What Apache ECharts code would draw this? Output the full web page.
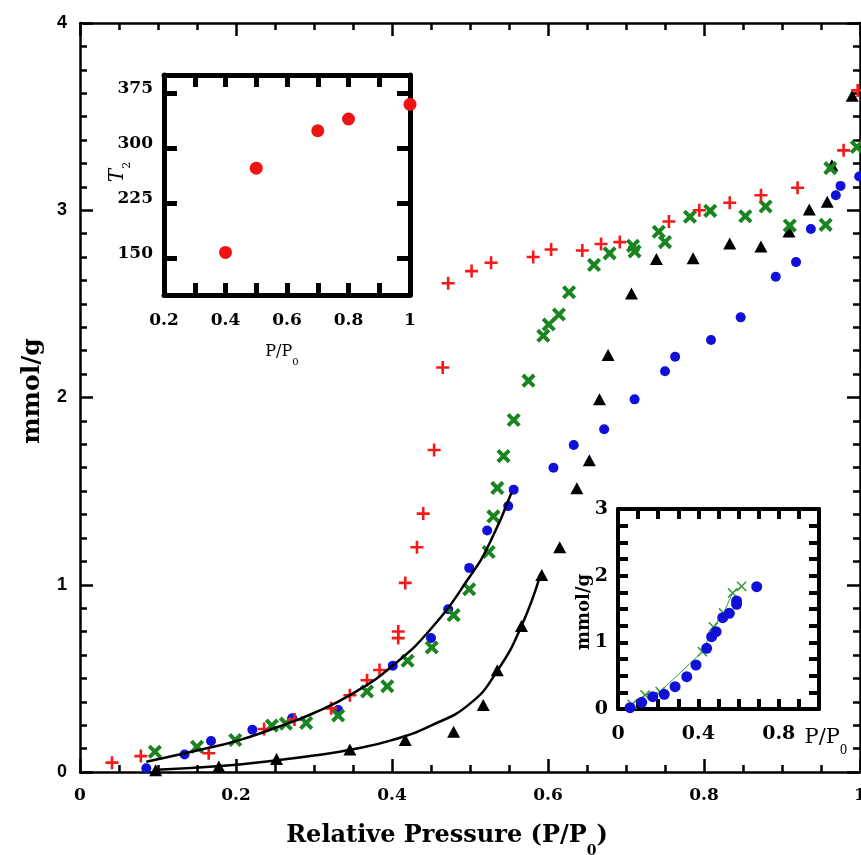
<!DOCTYPE html>
<html>
<head>
<meta charset="utf-8">
<script src="https://cdn.jsdelivr.net/npm/echarts@6/dist/echarts.min.js"></script>
<style>
html, body { margin: 0; padding: 0; background: #fff; }
#chart { width: 861px; height: 855px; }
</style>
</head>
<body>
<div id="chart"></div>
<script>
// Adsorption isotherms, amount adsorbed (mmol/g) vs relative pressure P/P0
const plusRed = [[0.041,0.05],[0.078,0.085],[0.165,0.10],[0.236,0.23],[0.275,0.28],[0.322,0.34],[0.346,0.41],[0.368,0.49],[0.384,0.545],[0.408,0.715],[0.408,0.75],[0.417,1.01],[0.432,1.20],[0.440,1.38],[0.454,1.72],[0.465,2.16],[0.472,2.61],[0.502,2.675],[0.527,2.72],[0.581,2.75],[0.604,2.79],[0.644,2.785],[0.668,2.82],[0.692,2.83],[0.755,2.94],[0.794,3.00],[0.833,3.04],[0.873,3.08],[0.920,3.12],[0.979,3.32],[0.997,3.64]];
const crossGreen = [[0.096,0.108],[0.150,0.135],[0.199,0.171],[0.246,0.248],[0.264,0.258],[0.290,0.262],[0.331,0.302],[0.368,0.43],[0.394,0.458],[0.420,0.594],[0.451,0.665],[0.479,0.838],[0.499,0.976],[0.524,1.175],[0.530,1.365],[0.535,1.517],[0.543,1.687],[0.556,1.88],[0.575,2.09],[0.594,2.33],[0.601,2.39],[0.614,2.443],[0.627,2.562],[0.659,2.708],[0.679,2.77],[0.709,2.81],[0.711,2.78],[0.742,2.885],[0.750,2.83],[0.782,2.965],[0.808,2.997],[0.853,2.968],[0.879,3.02],[0.910,2.918],[0.956,2.922],[0.962,3.225],[0.996,3.338]];
const dotBlue = [[0.085,0.02],[0.134,0.093],[0.168,0.166],[0.221,0.226],[0.272,0.287],[0.331,0.331],[0.401,0.568],[0.450,0.715],[0.472,0.869],[0.499,1.09],[0.522,1.29],[0.549,1.42],[0.556,1.508],[0.607,1.625],[0.633,1.746],[0.672,1.83],[0.711,1.99],[0.750,2.14],[0.763,2.218],[0.809,2.307],[0.847,2.428],[0.892,2.645],[0.918,2.723],[0.937,2.90],[0.969,3.08],[0.975,3.13],[0.999,3.18]];
const triBlack = [[0.097,0.01],[0.178,0.03],[0.252,0.07],[0.346,0.12],[0.417,0.171],[0.479,0.215],[0.517,0.358],[0.535,0.543],[0.566,0.78],[0.592,1.052],[0.615,1.20],[0.637,1.515],[0.653,1.665],[0.666,1.99],[0.677,2.227],[0.707,2.556],[0.739,2.74],[0.786,2.743],[0.833,2.823],[0.873,2.806],[0.909,2.886],[0.935,3.004],[0.958,3.046],[0.964,3.24],[0.990,3.612]];

// fitted curves
const fitUpper = [[0.085,0.055],[0.15,0.115],[0.2,0.165],[0.25,0.235],[0.3,0.315],[0.35,0.42],[0.4,0.565],[0.45,0.765],[0.5,1.045],[0.525,1.22],[0.553,1.49]];
const fitLower = [[0.098,0.012],[0.18,0.032],[0.25,0.062],[0.3,0.088],[0.35,0.122],[0.4,0.17],[0.45,0.248],[0.5,0.365],[0.535,0.54],[0.566,0.78],[0.59,1.05]];

// inset: T2 vs P/P0
const t2Pressure = [0.4, 0.5, 0.7, 0.8, 1.0];
const t2Values = [158, 273, 324, 340, 360];
const t2Ticks = [150, 225, 300, 375];

// inset: low-pressure branch
const insetBlue = [[0.06,0.02],[0.118,0.10],[0.173,0.185],[0.23,0.22],[0.284,0.334],[0.342,0.484],[0.388,0.66],[0.441,0.91],[0.466,1.084],[0.488,1.159],[0.521,1.369],[0.554,1.435],[0.59,1.57],[0.59,1.62],[0.69,1.834]];
const insetGreen = [[0.07,0.07],[0.135,0.21],[0.21,0.26],[0.42,0.86],[0.475,1.23],[0.525,1.44],[0.57,1.74],[0.615,1.84]];
const insetXLabels = [0, 0.4, 0.8];

const PLUS = 'path://M4,0H6V4H10V6H6V10H4V6H0V4H4Z';
const PLUS_WIDE = 'path://M3.75,0H6.25V3.75H10V6.25H6.25V10H3.75V6.25H0V3.75H3.75Z';
const PLUS_THIN = 'path://M4.4,0H5.6V4.4H10V5.6H5.6V10H4.4V5.6H0V4.4H4.4Z';

const SERIF = '"DejaVu Serif", "Liberation Serif", serif';
const SANS = '"Liberation Sans", Arial, sans-serif';

function frameAxis(base, pos, w, tickLen, showLabel, label, tickExtra) {
  return Object.assign({
    type: 'value',
    position: pos,
    axisLine: { show: true, onZero: false, lineStyle: { color: '#000', width: w } },
    axisTick: Object.assign({ show: true, inside: true, length: tickLen, lineStyle: { color: '#000', width: w } }, tickExtra || {}),
    splitLine: { show: false },
    minorSplitLine: { show: false },
    axisLabel: Object.assign({ show: showLabel, color: '#000' }, label || {})
  }, base);
}

const near = (v, list) => list.some(t => Math.abs(v - t) < 1e-6);

const mainXLabel = { fontFamily: SERIF, fontWeight: 'bold', fontSize: 17, margin: 15 };
const mainYLabel = { fontFamily: SANS, fontWeight: 'bold', fontSize: 18, margin: 13 };

const xMainBase = { gridIndex: 0, min: 0, max: 1, interval: 0.2,
  minorTick: { show: true, splitNumber: 4, length: 7, lineStyle: { color: '#000', width: 2.5 } } };
const yMainBase = { gridIndex: 0, min: 0, max: 4, interval: 1,
  minorTick: { show: true, splitNumber: 8, length: 7, lineStyle: { color: '#000', width: 2.5 } } };

const xIn1Base = { gridIndex: 1, min: 0.2, max: 1, interval: 0.2,
  minorTick: { show: true, splitNumber: 2, length: 12, lineStyle: { color: '#000', width: 5 } } };
const yIn1Base = { gridIndex: 1, min: 100, max: 400, interval: 75 };

const xIn2Base = { gridIndex: 2, min: 0, max: 1, interval: 0.1 };
const yIn2Base = { gridIndex: 2, min: 0, max: 3, interval: 0.25 };

const solid = c => ({ color: c, opacity: 1 });

const option = {
  animation: false,
  backgroundColor: '#fff',
  grid: [
    { left: 80, top: 23, width: 780, height: 749, outerBoundsMode: 'none' },
    { left: 164, top: 75, width: 246, height: 220, outerBoundsMode: 'none', show: true, backgroundColor: '#fff', borderWidth: 0 },
    { left: 618, top: 509, width: 201, height: 200, outerBoundsMode: 'none', show: true, backgroundColor: '#fff', borderWidth: 0 }
  ],
  xAxis: [
    frameAxis(xMainBase, 'bottom', 2.5, 13, true, mainXLabel),
    frameAxis(xMainBase, 'top', 2.5, 13, false),
    frameAxis(xIn1Base, 'bottom', 5, 12, true, { fontFamily: SERIF, fontWeight: 'bold', fontSize: 17, margin: 17 }),
    frameAxis(xIn1Base, 'top', 5, 12, false),
    frameAxis(xIn2Base, 'bottom', 4, 10, true, { fontFamily: SERIF, fontWeight: 'bold', fontSize: 19, margin: 16,
      formatter: v => near(v, insetXLabels) ? String(+v.toFixed(1)) : '' }),
    frameAxis(xIn2Base, 'top', 4, 10, false)
  ],
  yAxis: [
    frameAxis(yMainBase, 'left', 2.5, 13, true, mainYLabel),
    frameAxis(yMainBase, 'right', 2.5, 13, false),
    frameAxis(yIn1Base, 'left', 5, 13, true, {
      margin: 11, customValues: t2Ticks,
      formatter: v => '{v|' + v + '}',
      rich: { v: { fontFamily: SERIF, fontWeight: 'bold', fontSize: 17, color: '#000', padding: [0, 0, 10, 0] } }
    }, { customValues: t2Ticks }),
    frameAxis(yIn1Base, 'right', 5, 13, false, null, { customValues: t2Ticks }),
    frameAxis(yIn2Base, 'left', 4, 10, true, { fontFamily: SERIF, fontWeight: 'bold', fontSize: 19, margin: 10,
      formatter: v => near(v, [0, 1, 2, 3]) ? String(Math.round(v)) : '' }),
    frameAxis(yIn2Base, 'right', 4, 10, false)
  ],
  series: [
    { type: 'scatter', xAxisIndex: 0, yAxisIndex: 0, data: triBlack, symbol: 'triangle', symbolSize: [13, 12],
      itemStyle: solid('#000'), z: 2 },
    { type: 'scatter', xAxisIndex: 0, yAxisIndex: 0, data: dotBlue, symbol: 'circle', symbolSize: 10,
      itemStyle: solid('#1010d8'), z: 3 },
    { type: 'scatter', xAxisIndex: 0, yAxisIndex: 0, data: crossGreen, symbol: PLUS_WIDE, symbolSize: 16, symbolRotate: 45,
      itemStyle: solid('#1a8420'), z: 4 },
    { type: 'scatter', xAxisIndex: 0, yAxisIndex: 0, data: plusRed, symbol: PLUS, symbolSize: 13,
      itemStyle: solid('#f51a1a'), z: 5 },
    { type: 'line', xAxisIndex: 0, yAxisIndex: 0, data: fitUpper, smooth: 0.5, showSymbol: false, symbol: 'none',
      lineStyle: { color: '#000', width: 2.5 }, z: 6 },
    { type: 'line', xAxisIndex: 0, yAxisIndex: 0, data: fitLower, smooth: 0.5, showSymbol: false, symbol: 'none',
      lineStyle: { color: '#000', width: 2.5 }, z: 6 },
    { type: 'scatter', xAxisIndex: 2, yAxisIndex: 2, data: t2Pressure.map((p, i) => [p, t2Values[i]]),
      symbol: 'circle', symbolSize: 13, itemStyle: solid('#ec1414'), z: 5 },
    { type: 'line', xAxisIndex: 4, yAxisIndex: 4, data: insetGreen, symbol: PLUS_THIN, symbolSize: 13, symbolRotate: 45,
      showSymbol: true, itemStyle: solid('#3a9a3a'), lineStyle: { color: '#3a9a3a', width: 1 }, z: 4 },
    { type: 'scatter', xAxisIndex: 4, yAxisIndex: 4, data: insetBlue, symbol: 'circle', symbolSize: 11,
      itemStyle: solid('#1010d8'), z: 5 }
  ],
  graphic: [
    { type: 'text', x: 447, y: 836, z: 10,
      style: { x: 0, y: 0, align: 'center', verticalAlign: 'middle', textAlign: 'center', textVerticalAlign: 'middle',
        text: '{t|Relative Pressure (P/P}{s|0}{t|)}',
        rich: {
          t: { fontFamily: SERIF, fontWeight: 'bold', fontSize: 24, fill: '#000', color: '#000' },
          s: { fontFamily: SERIF, fontWeight: 'bold', fontSize: 14, fill: '#000', color: '#000', padding: [30, 0, 0, 0] }
        } } },
    { type: 'text', x: 32, y: 391, rotation: Math.PI / 2, z: 10,
      style: { x: 0, y: 0, align: 'center', verticalAlign: 'middle', textAlign: 'center', textVerticalAlign: 'middle',
        text: 'mmol/g', font: 'bold 25px ' + SERIF, fill: '#000' } },
    { type: 'text', x: 282, y: 352, z: 10,
      style: { x: 0, y: 0, align: 'center', verticalAlign: 'middle', textAlign: 'center', textVerticalAlign: 'middle',
        text: '{t|P/P}{s|0}',
        rich: {
          t: { fontFamily: SERIF, fontSize: 16, fill: '#000', color: '#000' },
          s: { fontFamily: SERIF, fontSize: 10, fill: '#000', color: '#000', padding: [20, 0, 0, 0] }
        } } },
    { type: 'text', x: 118, y: 172, rotation: Math.PI / 2, z: 10,
      style: { x: 0, y: 0, align: 'center', verticalAlign: 'middle', textAlign: 'center', textVerticalAlign: 'middle',
        text: '{t|T}{s|2}',
        rich: {
          t: { fontFamily: SERIF, fontStyle: 'italic', fontSize: 20, fill: '#000', color: '#000' },
          s: { fontFamily: SERIF, fontSize: 11, fill: '#000', color: '#000', padding: [18, 0, 0, 0] }
        } } },
    { type: 'text', x: 826, y: 738, z: 10,
      style: { x: 0, y: 0, align: 'center', verticalAlign: 'middle', textAlign: 'center', textVerticalAlign: 'middle',
        text: '{t|P/P}{s|0}',
        rich: {
          t: { fontFamily: SERIF, fontSize: 21, fill: '#000', color: '#000' },
          s: { fontFamily: SERIF, fontSize: 12, fill: '#000', color: '#000', padding: [26, 0, 0, 0] }
        } } },
    { type: 'text', x: 584, y: 612, rotation: Math.PI / 2, z: 10,
      style: { x: 0, y: 0, align: 'center', verticalAlign: 'middle', textAlign: 'center', textVerticalAlign: 'middle',
        text: 'mmol/g', font: 'bold 18px ' + SERIF, fill: '#000' } }
  ]
};

const chart = echarts.init(document.getElementById('chart'));
chart.setOption(option);
</script>
</body>
</html>
